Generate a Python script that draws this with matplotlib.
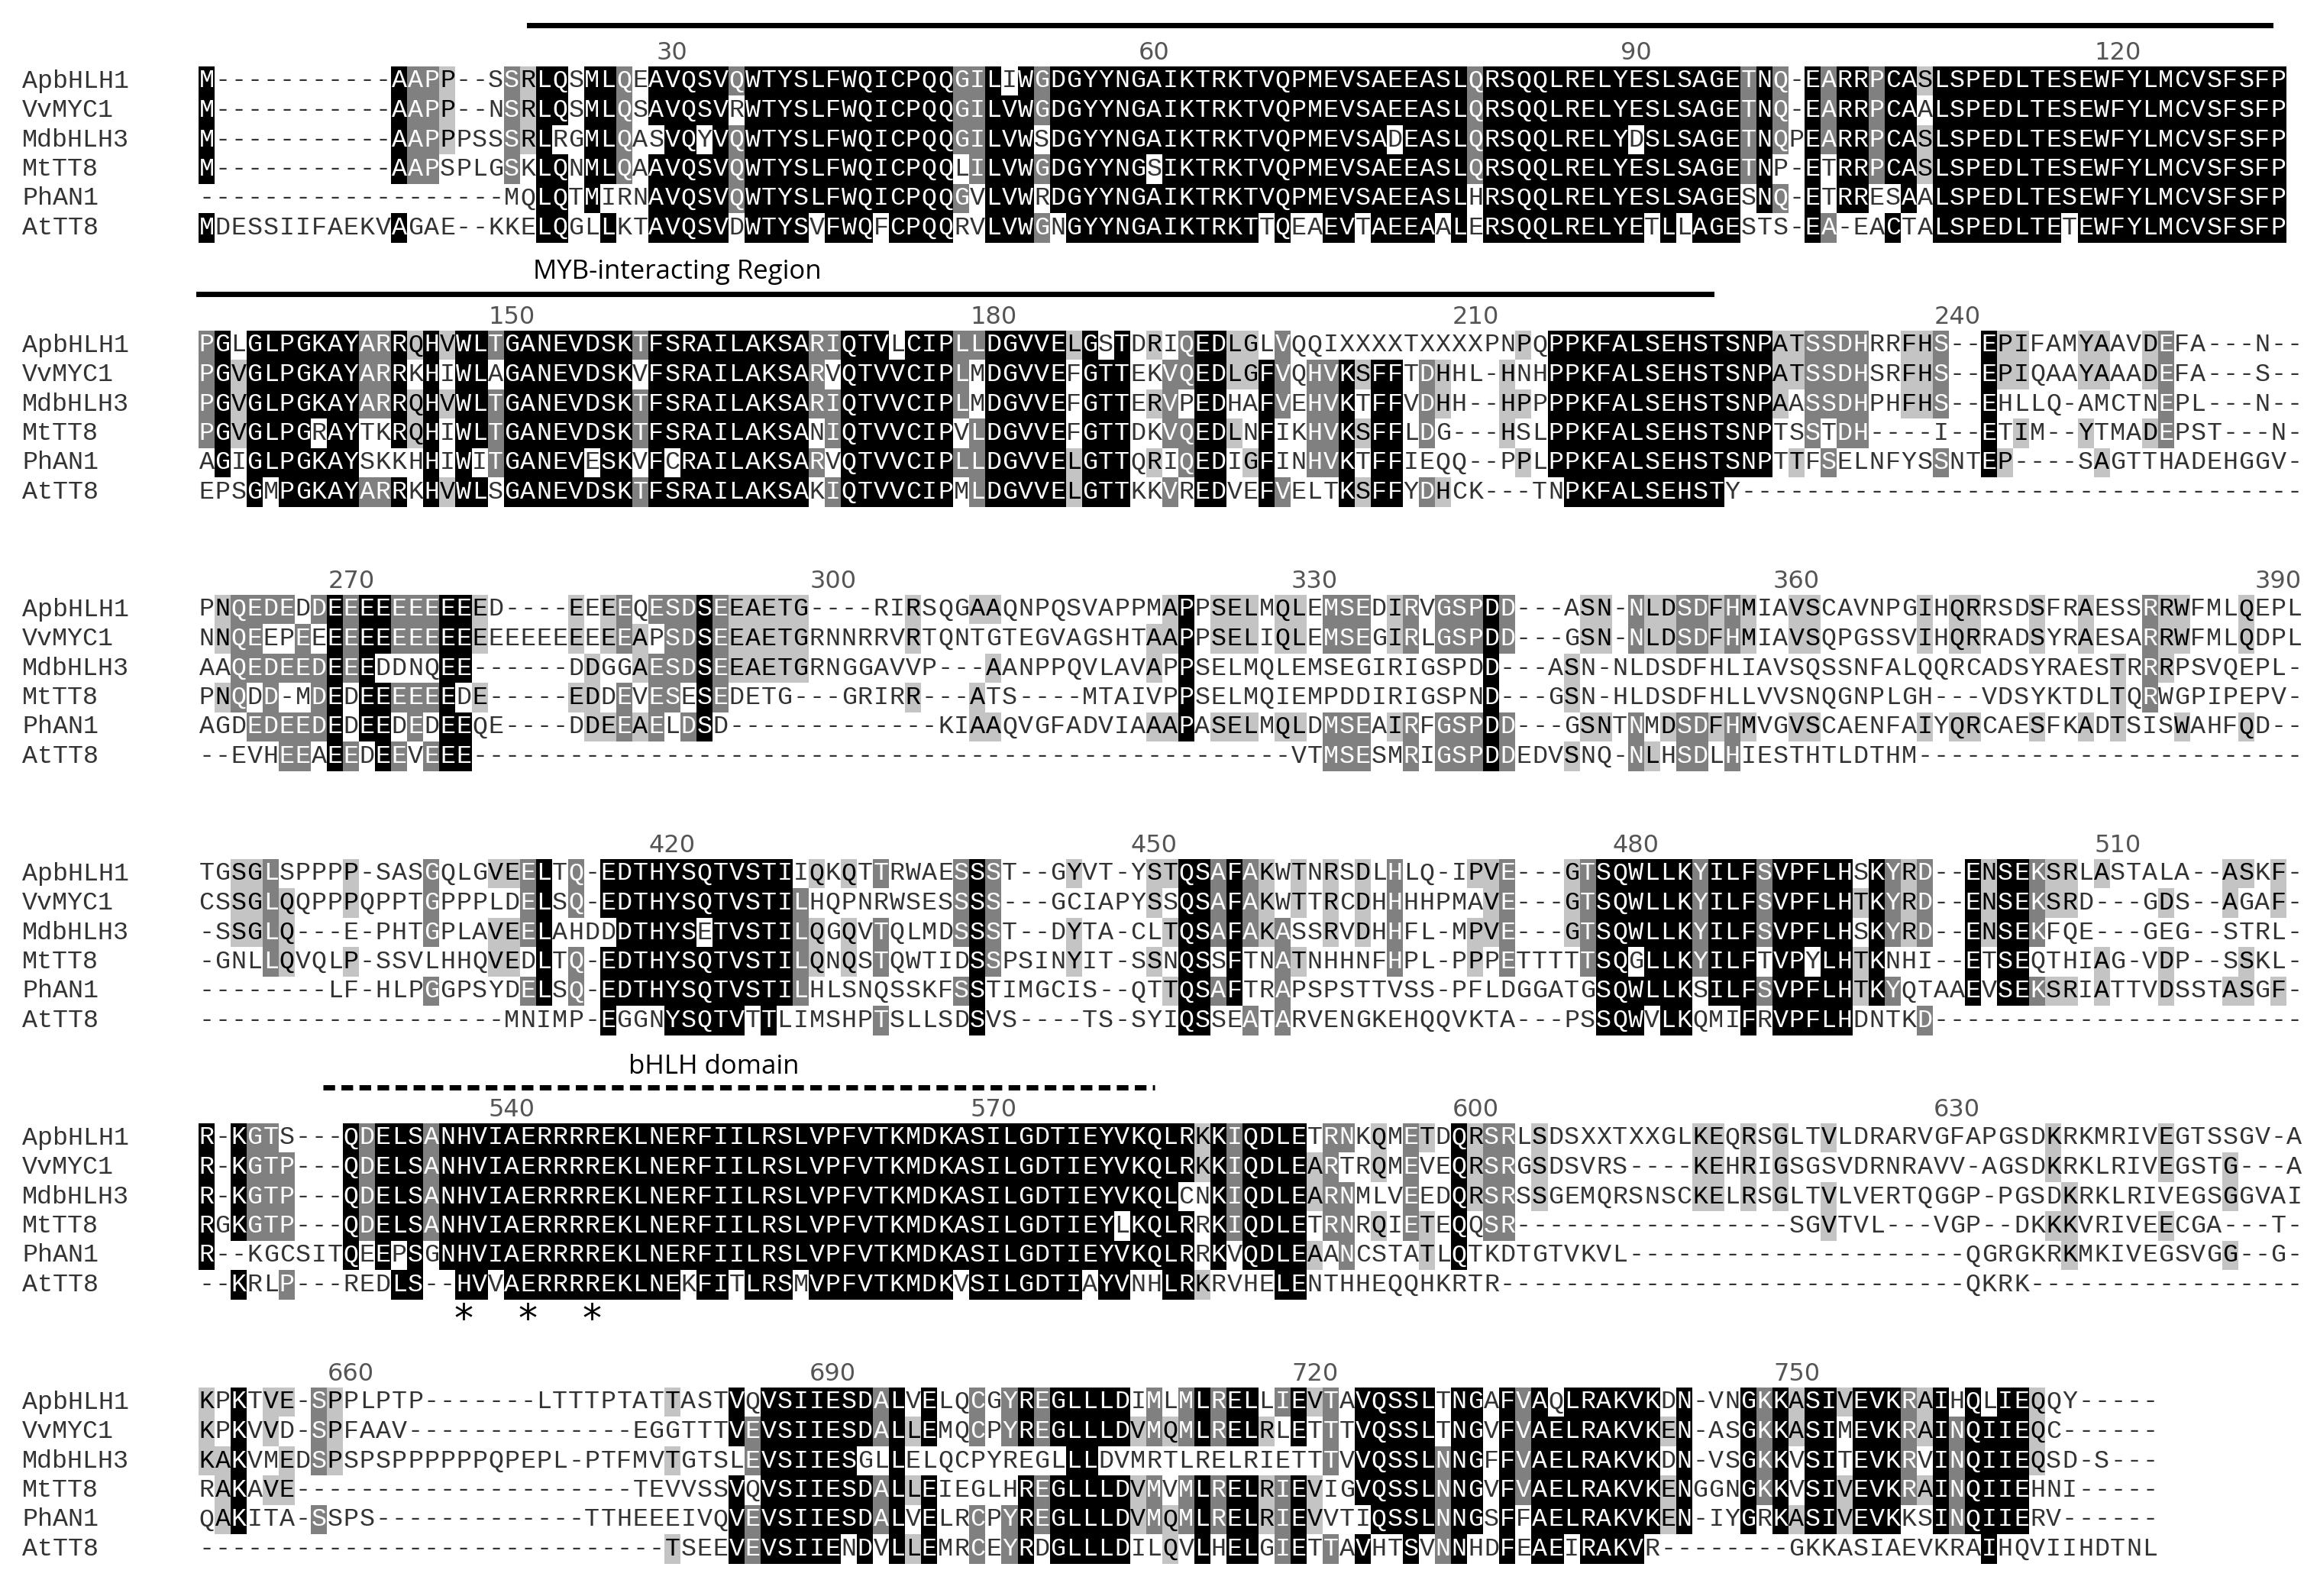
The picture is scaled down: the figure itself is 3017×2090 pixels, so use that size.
import matplotlib
matplotlib.use("Agg")
import matplotlib.pyplot as plt
from matplotlib.patches import Rectangle
from collections import Counter

names = ["ApbHLH1", "VvMYC1", "MdbHLH3", "MtTT8", "PhAN1", "AtTT8"]

block1 = [
    "M-----------AAPP--SSRLQSMLQEAVQSVQWTYSLFWQICPQQGILIWGDGYYNGAIKTRKTVQPMEVSAEEASLQRSQQLRELYESLSAGETNQ-EARRPCASLSPEDLTESEWFYLMCVSFSFP",
    "M-----------AAPP--NSRLQSMLQSAVQSVRWTYSLFWQICPQQGILVWGDGYYNGAIKTRKTVQPMEVSAEEASLQRSQQLRELYESLSAGETNQ-EARRPCAALSPEDLTESEWFYLMCVSFSFP",
    "M-----------AAPPPSSSRLRGMLQASVQYVQWTYSLFWQICPQQGILVWSDGYYNGAIKTRKTVQPMEVSADEASLQRSQQLRELYDSLSAGETNQPEARRPCASLSPEDLTESEWFYLMCVSFSFP",
    "M-----------AAPSPLGSKLQNMLQAAVQSVQWTYSLFWQICPQQLILVWGDGYYNGSIKTRKTVQPMEVSAEEASLQRSQQLRELYESLSAGETNP-ETRRPCASLSPEDLTESEWFYLMCVSFSFP",
    "-------------------MQLQTMIRNAVQSVQWTYSLFWQICPQQGVLVWRDGYYNGAIKTRKTVQPMEVSAEEASLHRSQQLRELYESLSAGESNQ-ETRRESAALSPEDLTESEWFYLMCVSFSFP",
    "MDESSIIFAEKVAGAE--KKELQGLLKTAVQSVDWTYSVFWQFCPQQRVLVWGNGYYNGAIKTRKTTQEAEVTAEEAALERSQQLRELYETLLAGESTS-EA-EACTALSPEDLTETEWFYLMCVSFSFP",
]
block2 = [
    "PGLGLPGKAYARRQHVWLTGANEVDSKTFSRAILAKSARIQTVLCIPLLDGVVELGSTDRIQEDLGLVQQIXXXXTXXXXPNPQPPKFALSEHSTSNPATSSDHRRFHS--EPIFAMYAAVDEFA---N",
    "PGVGLPGKAYARRKHIWLAGANEVDSKVFSRAILAKSARVQTVVCIPLMDGVVEFGTTEKVQEDLGFVQHVKSFFTDHHL-HNHPPKFALSEHSTSNPATSSDHSRFHS--EPIQAAYAAADEFA---S",
    "PGVGLPGKAYARRQHVWLTGANEVDSKTFSRAILAKSARIQTVVCIPLMDGVVEFGTTERVPEDHAFVEHVKTFFVDHH--HPPPPKFALSEHSTSNPAASSDHPHFHS--EHLLQ-AMCTNEPL---N",
    "PGVGLPGRAYTKRQHIWLTGANEVDSKTFSRAILAKSANIQTVVCIPVLDGVVEFGTTDKVQEDLNFIKHVKSFFLDG---HSLPPKFALSEHSTSNPTSSTDH----I--ETIM--YTMADEPST---N",
    "AGIGLPGKAYSKKHHIWITGANEVESKVFCRAILAKSARVQTVVCIPLLDGVVELGTTQRIQEDIGFINHVKTFFIEQQ--PPLPPKFALSEHSTSNPTTFSELNFYSSNTEP----SAGTTHADEHGGV",
    "EPSGMPGKAYARRKHVWLSGANEVDSKTFSRAILAKSAKIQTVVCIPMLDGVVELGTTKKVREDVEFVELTKSFFYDHCK---TNPKFALSEHSTY-----------------------------------",
]
block3 = [
    "PNQEDEDDEEEEEEEEEED----EEEEQESDSEEAETG----RIRSQGAAQNPQSVAPPMAPPSELMQLEMSEDIRVGSPDD---ASN-NLDSDFHMIAVSCAVNPGIHQRRSDSFRAESSRRWFMLQEPL",
    "NNQEEPEEEEEEEEEEEEEEEEEEEEEAPSDSEEAETGRNNRRVRTQNTGTEGVAGSHTAAPPSELIQLEMSEGIRLGSPDD---GSN-NLDSDFHMIAVSQPGSSVIHQRRADSYRAESARRWFMLQDPL",
    "AAQEDEEDEEEDDNQEE------DDGGAESDSEEAETGRNGGAVVP---AANPPQVLAVAPPSELMQLEMSEGIRIGSPDD---ASN-NLDSDFHLIAVSQSSNFALQQRCADSYRAESTRRRPSVQEPL",
    "PNQDD-MDEDEEEEEEDE-----EDDEVESESEDETG---GRIRR---ATS----MTAIVPPSELMQIEMPDDIRIGSPND---GSN-HLDSDFHLLVVSNQGNPLGH---VDSYKTDLTQRWGPIPEPV",
    "AGDEDEEDEDEEDEDEEQE----DDEEAELDSD-------------KIAAQVGFADVIAAAPASELMQLDMSEAIRFGSPDD---GSNTNMDSDFHMVGVSCAENFAIYQRCAESFKADTSISWAHFQD--",
    "--EVHEEAEEDEEVEEE---------------------------------------------------VTMSESMRIGSPDDEDVSNQ-NLHSDLHIESTHTLDTHM--------------------------",
]
block4 = [
    "TGSGLSPPPP-SASGQLGVEELTQ-EDTHYSQTVSTIIQKQTTRWAESSST--GYVT-YSTQSAFAKWTNRSDLHLQ-IPVE---GTSQWLLKYILFSVPFLHSKYRD--ENSEKSRLASTALA--ASKF",
    "CSSGLQQPPPQPPTGPPPLDELSQ-EDTHYSQTVSTILHQPNRWSESSSS---GCIAPYSSQSAFAKWTTRCDHHHHPMAVE---GTSQWLLKYILFSVPFLHTKYRD--ENSEKSRD---GDS--AGAF",
    "-SSGLQ---E-PHTGPLAVEELAHDDDTHYSETVSTILQGQVTQLMDSSST--DYTA-CLTQSAFAKASSRVDHHFL-MPVE---GTSQWLLKYILFSVPFLHSKYRD--ENSEKFQE---GEG--STRL",
    "-GNLLQVQLP-SSVLHHQVEDLTQ-EDTHYSQTVSTILQNQSTQWTIDSSPSINYIT-SSNQSSFTNATNHHNFHPL-PPPETTTTTSQGLLKYILFTVPYLHTKNHI--ETSEQTHIAG-VDP--SSKL",
    "--------LF-HLPGGPSYDELSQ-EDTHYSQTVSTILHLSNQSSKFSSTIMGCIS--QTTQSAFTRAPSPSTTVSS-PFLDGGATGSQWLLKSILFSVPFLHTKYQTAAEVSEKSRIATTVDSSTASGF",
    "-------------------MNIMP-EGGNYSQTVTTLIMSHPTSLLSDSVS----TS-SYIQSSEATARVENGKEHQQVKTA---PSSQWVLKQMIFRVPFLHDNTKD-----------------------------",
]
block5 = [
    "R-KGTS---QDELSANHVIAERRRREKLNERFIILRSLVPFVTKMDKASILGDTIEYVKQLRKKIQDLETRNKQMETDQRSRLSDSXXTXXGLKEQRSGLTVLDRARVGFAPGSDKRKMRIVEGTSSGV-A",
    "R-KGTP---QDELSANHVIAERRRREKLNERFIILRSLVPFVTKMDKASILGDTIEYVKQLRKKIQDLEARTRQMEVEQRSRGSDSVRS----KEHRIGSGSVDRNRAVV-AGSDKRKLRIVEGSTG---A",
    "R-KGTP---QDELSANHVIAERRRREKLNERFIILRSLVPFVTKMDKASILGDTIEYVKQLCNKIQDLEARNMLVEEDQRSRSSGEMQRSNSCKELRSGLTVLVERTQGGP-PGSDKRKLRIVEGSGGVAIG",
    "RGKGTP---QDELSANHVIAERRRREKLNERFIILRSLVPFVTKMDKASILGDTIEYLKQLRRKIQDLETRNRQIETEQQSR-----------------SGVTVL---VGP--DKKKVRIVEECGA---T",
    "R--KGCSITQEEPSGNHVIAERRRREKLNERFIILRSLVPFVTKMDKASILGDTIEYVKQLRRKVQDLEAANCSTATLQTKDTGTVKVL---------------------QGRGKRKMKIVEGSVGG--G",
    "--KRLP---REDLS--HVVAERRRREKLNEKFITLRSMVPFVTKMDKVSILGDTIAYVNHLRKRVHELENTHHEQQHKRTR-----------------------------QKRK----------------",
]
block6 = [
    "KPKTVE-SPPLPTP-------LTTTPTATTASTVQVSIIESDALVELQCGYREGLLLDIMLMLRELLIEVTAVQSSLTNGAFVAQLRAKVKDN-VNGKKASIVEVKRAIHQLIEQQY-",
    "KPKVVD-SPFAAV--------------EGGTTTVEVSIIESDALLEMQCPYREGLLLDVMQMLRELRLETTTVQSSLTNGVFVAELRAKVKEN-ASGKKASIMEVKRAINQIIEQC---",
    "KAKVMEDSPSPSPPPPPPQPEPL-PTFMVTGTSLEVSIIESGLLELQCPYREGLLLDVMRTLRELRIETTTVVQSSLNNGFFVAELRAKVKDN-VSGKKVSITEVKRVINQIIEQSD-S",
    "RAKAVE---------------------TEVVSSVQVSIIESDALLEIEGLHREGLLLDVMVMLRELRIEVIGVQSSLNNGVFVAELRAKVKENGGNGKKVSIVEVKRAINQIIEHNI--",
    "QAKITA-SSPS-------------TTHEEEIVQVEVSIIESDALVELRCPYREGLLLDVMQMLRELRIEVVTIQSSLNNGSFFAELRAKVKEN-IYGRKASIVEVKKSINQIIERV---",
    "-----------------------------TSEEVEVSIIENDVLLEMRCEYRDGLLLDILQVLHELGIETTAVHTSVNNHDFEAEIRAKVR--------GKKASIAEVKRAIHQVIIHDTNL",
]
blocks = [block1, block2, block3, block4, block5, block6]
block_starts = [1, 131, 261, 391, 521, 651]
ruler_ticks = [[30, 60, 90, 120], [150, 180, 210, 240], [270, 300, 330, 360, 390],
               [420, 450, 480, 510], [540, 570, 600, 630], [660, 690, 720, 750]]
motif_stars = [16, 20, 24]  # H, E, R of the bHLH basic region (block 5 columns)

W, H = 3017, 2090
x0 = 260        # left edge of sequence columns
cw = 21.03      # column width
rh = 38.5       # row height
block_top = 106  # centre of first row of first block
pitch = 346

fig = plt.figure(figsize=(W / 200, H / 200), dpi=200)
ax = fig.add_axes([0, 0, 1, 1])
ax.set_xlim(0, W)
ax.set_ylim(H, 0)
ax.axis("off")

mono = "Liberation Mono"
for b, rows in enumerate(blocks):
    n = max(len(r) for r in rows)
    rows = [r.ljust(n, "-") for r in rows]
    yb = block_top + b * pitch
    for c in range(n):
        col = [r[c] for r in rows]
        cnt = Counter(ch for ch in col if ch not in "-X")
        top, k = cnt.most_common(1)[0] if cnt else ("", 0)
        for i, ch in enumerate(col):
            y = yb + i * rh
            x = x0 + c * cw
            fc, tc = None, "#333333"
            if ch == top and ch != "-":
                if k >= 5:
                    fc, tc = "black", "white"
                elif k == 4:
                    fc, tc = "#808080", "white"
                elif k == 3:
                    fc, tc = "#c4c4c4", "black"
            if fc:
                ax.add_patch(Rectangle((x, y - rh / 2), cw, rh, fc=fc, ec="none"))
            ax.text(x + cw / 2, y, ch, ha="center", va="center",
                    fontsize=12, family=mono, color=tc)
    for i, nm in enumerate(names):
        ax.text(29, yb + i * rh, nm, ha="left", va="center",
                fontsize=12, family=mono, color="#333333")
    for t in ruler_ticks[b]:
        c = t - block_starts[b]
        ax.text(x0 + c * cw + cw / 2, yb - 36, str(t), ha="center", va="center",
                fontsize=11.5, family="DejaVu Sans", color="#555555")

# MYB-interacting region
ax.plot([693, 2973], [33, 33], color="black", lw=2.5)
ax.plot([260, 2241], [385, 385], color="black", lw=2.5)
ax.text(698, 356, "MYB-interacting Region", ha="left", va="center",
        fontsize=12.5, family="Open Sans", color="black")

# bHLH domain
ax.plot([423, 1512], [1424, 1424], color="black", lw=2.5, ls=(0, (2.2, 1.2)))
ax.text(823, 1397, "bHLH domain", ha="left", va="center",
        fontsize=12.5, family="Open Sans", color="black")
ys = block_top + 4 * pitch + 6 * rh + 8
for c in motif_stars:
    ax.text(x0 + c * cw + cw / 2, ys, "*", ha="center", va="center",
            fontsize=18, family="DejaVu Sans", color="black")

fig.savefig("out.png", dpi=200)
